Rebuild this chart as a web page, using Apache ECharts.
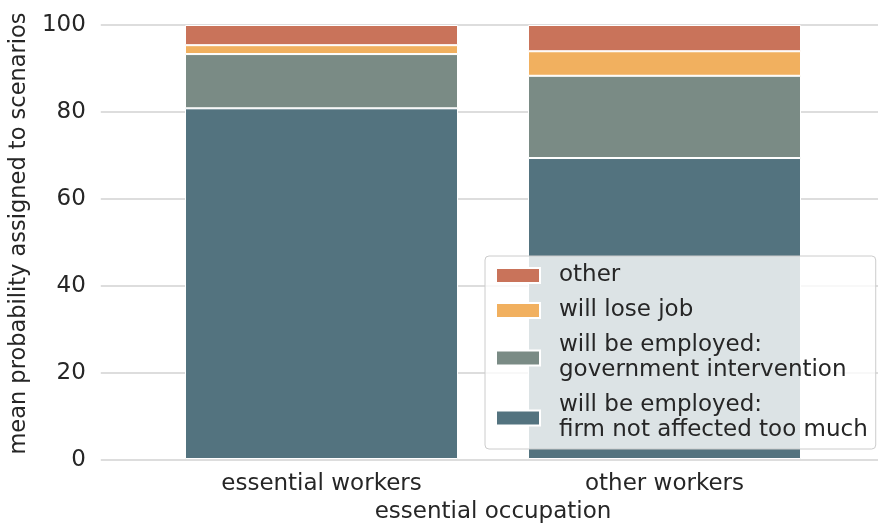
<!DOCTYPE html>
<html>
<head>
<meta charset="utf-8">
<script src="https://cdn.jsdelivr.net/npm/echarts@6/dist/echarts.min.js"></script>
<style>
  html, body { margin: 0; padding: 0; background: #fff; }
  #chart { width: 878px; height: 529px; }
</style>
</head>
<body>
<div id="chart"></div>
<script>
// categories and stacked shares (percent), bottom to top
const categories = ['essential workers', 'other workers'];
const firmNotAffected = [80.8, 69.35];
const governmentIntervention = [12.5, 18.95];
const willLoseJob = [2.05, 5.65];
const otherScenario = [4.65, 6.05];
const yTicks = [0, 20, 40, 60, 80, 100];

const font = 'DejaVu Sans';
const textColor = '#262626';
const fs = 23;

const chart = echarts.init(document.getElementById('chart'));

const barStyle = color => ({ color: color, borderColor: '#ffffff', borderWidth: 1 });

chart.setOption({
  backgroundColor: '#ffffff',
  animation: false,
  textStyle: { fontFamily: font },
  grid: [
    // background grid: gridlines + y labels across full width
    { left: 98, right: 0, top: 25, bottom: 69 },
    // bar grid
    { left: 150, right: 42, top: 25, bottom: 69 }
  ],
  xAxis: [
    { gridIndex: 0, type: 'category', data: categories, show: false },
    {
      gridIndex: 1,
      type: 'category',
      data: categories,
      axisLine: { show: false },
      axisTick: { show: false },
      axisLabel: { color: textColor, fontSize: fs, fontFamily: font, margin: 14 },
      name: 'essential occupation',
      nameLocation: 'middle',
      nameGap: 42,
      nameTextStyle: { color: textColor, fontSize: fs, fontFamily: font, verticalAlign: 'top' }
    }
  ],
  yAxis: [
    {
      gridIndex: 0,
      type: 'value',
      min: yTicks[0],
      max: yTicks[yTicks.length - 1],
      interval: 20,
      axisLine: { show: false },
      axisTick: { show: false },
      axisLabel: { color: textColor, fontSize: fs, fontFamily: font, margin: 15 },
      splitLine: { lineStyle: { color: '#d2d2d2', width: 1.5 } },
      name: 'mean probability assigned to scenarios',
      nameLocation: 'middle',
      nameGap: 64,
      // left padding nudges the rotated title a little upward, like the reference
      nameTextStyle: { color: textColor, fontSize: 22.5, fontFamily: font, padding: [0, 0, 0, 18] }
    },
    { gridIndex: 1, type: 'value', min: 0, max: 100, show: false }
  ],
  legend: {
    orient: 'vertical',
    left: 485,
    top: 256,
    padding: [7, 8, 6, 10],
    itemWidth: 44,
    itemHeight: 15,
    itemGap: 10,
    icon: 'rect',
    backgroundColor: 'rgba(255,255,255,0.8)',
    borderColor: '#cccccc',
    borderWidth: 1,
    borderRadius: 4,
    data: [
      'other',
      'will lose job',
      'will be employed:\ngovernment intervention',
      'will be employed:\nfirm not affected too much'
    ],
    textStyle: { color: textColor, fontSize: fs, fontFamily: font, lineHeight: 25, padding: [0, 0, 0, 14] }
  },
  series: [
    {
      name: 'will be employed:\nfirm not affected too much',
      type: 'bar', stack: 'total', xAxisIndex: 1, yAxisIndex: 1,
      barWidth: 273, data: firmNotAffected, itemStyle: barStyle('#53737f')
    },
    {
      name: 'will be employed:\ngovernment intervention',
      type: 'bar', stack: 'total', xAxisIndex: 1, yAxisIndex: 1,
      barWidth: 273, data: governmentIntervention, itemStyle: barStyle('#7a8b85')
    },
    {
      name: 'will lose job',
      type: 'bar', stack: 'total', xAxisIndex: 1, yAxisIndex: 1,
      barWidth: 273, data: willLoseJob, itemStyle: barStyle('#f1b05f')
    },
    {
      name: 'other',
      type: 'bar', stack: 'total', xAxisIndex: 1, yAxisIndex: 1,
      barWidth: 273, data: otherScenario, itemStyle: barStyle('#c9735a')
    }
  ]
});
</script>
</body>
</html>
